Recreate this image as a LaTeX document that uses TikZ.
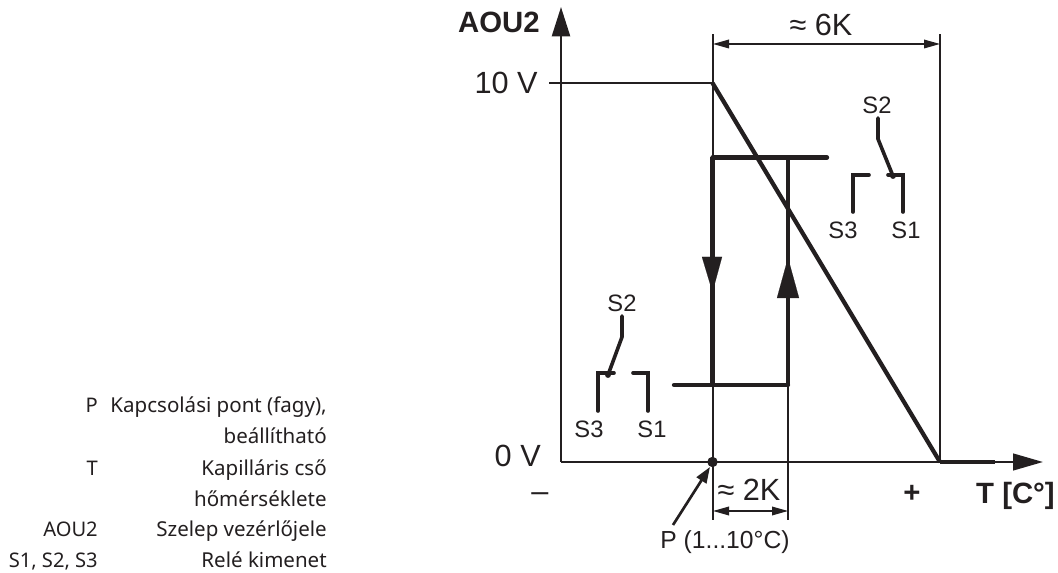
\documentclass[tikz,border=0pt]{standalone}
\usepackage{fontspec}
\setmainfont{Liberation Sans}
\newfontfamily\legendFont{Noto Sans}
\usetikzlibrary{arrows.meta}
\definecolor{lineColor}{RGB}{35,31,32}
\tikzstyle{pixelGrid} = [x = .75pt, y = -.75pt]
\tikzstyle{thinLine} = [color=lineColor, line width=1.5pt]
\tikzstyle{axisLine} = [color=lineColor, line width=1.8pt]
\tikzstyle{thickLine} = [color=lineColor, line width=3.2pt]
\tikzstyle{hystLine} = [color=lineColor, line width=3.5pt]
\tikzstyle{riseLine} = [color=lineColor, line width=2.6pt]
\tikzstyle{contactLine} = [color=lineColor, line width=2.7pt, line cap=round]
\tikzstyle{dimLine} = [color=lineColor, line width=.9pt, {Triangle[length=12pt, width=6.5pt]}-{Triangle[length=12pt, width=6.5pt]}]
\tikzstyle{bigLabel} = [color=lineColor, inner sep=0, font=\fontsize{23}{25}\selectfont]
\tikzstyle{boldLabel} = [color=lineColor, inner sep=0, font=\fontsize{22}{24}\selectfont\bfseries]
\tikzstyle{switchLabel} = [color=lineColor, inner sep=0, font=\fontsize{17.8}{19}\selectfont]
\tikzstyle{legendSymbol} = [color=lineColor, inner sep=0, font=\legendFont\fontsize{15.1}{17}\selectfont]
\tikzstyle{legendText} = [color=lineColor, inner sep=0, font=\legendFont\fontsize{15.4}{17}\selectfont]
\newcommand{\legendRow}[3]{
  \node [legendSymbol, anchor=base east] (sym#1) at (98, #1) {#2};
  \node [legendText, anchor=base east] (txt#1) at (327, #1) {#3};
}
\newcommand{\changeOver}[4]{
  \draw [contactLine] (#1, #2) -- ++ (0, 21) -- (#3, #4);
  \fill [lineColor] (#3, #4) circle (2.2pt);
}
\begin{document}
\begin{tikzpicture}[pixelGrid]
  \useasboundingbox (0,0) rectangle (1058,573);

  \coordinate (origin) at (561,462);
  \coordinate (topAxis) at (561,7);
  \coordinate (endAxis) at (1043,462);
  \coordinate (pointP) at (712.5,462);
  \coordinate (pointMax) at (712.5,83);
  \coordinate (pointZero) at (940,462);

  % axes
  \draw [axisLine, -{Triangle[length=22pt, width=13.5pt]}] (origin) -- (topAxis);
  \draw [axisLine, -{Triangle[length=22.5pt, width=12.5pt]}] (origin) -- (endAxis);
  \draw [axisLine] (549,83) -- (pointMax);
  \draw [thickLine] (pointZero) -- (995,462);

  % helper verticals
  \draw [thinLine] (pointP) -- (712.5,34);
  \draw [thinLine] (pointP) -- (712.5,520);
  \draw [thinLine] (pointZero) -- (940,34);
  \draw [thinLine] (788,385) -- (788,520);
  \draw [thickLine] (pointMax) -- (pointZero);

  % hysteresis
  \draw [hystLine] (712.5,385) -- (712.5,157.5);
  \draw [riseLine] (788,385) -- (788,157.5);
  \draw [thickLine, line cap=round] (712.5,157.5) -- (827,157.5);
  \draw [thickLine, line cap=round] (674,385) -- (788,385);
  \draw [lineColor, line width=.1pt, fill=lineColor] (702,257) -- (722,257) -- (712.5,292) -- cycle;
  \draw [lineColor, line width=.1pt, fill=lineColor] (777,298) -- (799,298) -- (788,258) -- cycle;

  % dimensions
  \draw [dimLine] (713,44) -- (940,44);
  \draw [dimLine] (713,511) -- (788,511);
  \node [bigLabel] (sixK) at (821,25) {≈ 6K};
  \node [bigLabel] (twoK) at (749,490) {≈ 2K};

  % point P
  \node [bigLabel, font=\fontsize{18.5}{20}\selectfont] (labelP) at (725,542) {P (1...10°C)};
  \fill [lineColor] (pointP) circle (3.9pt);
  \draw [color=lineColor, line width=2pt, -{Triangle[length=12pt, width=8.5pt]}] (673,525) -- (710,467);

  % axis labels
  \node [boldLabel, anchor=east] (labelY) at (540,22) {AOU2};
  \node [bigLabel, anchor=east] (labelMax) at (538,83) {10 V};
  \node [bigLabel, anchor=east] (labelMin) at (541,456) {0 V};
  \node [bigLabel] (labelMinus) at (540,497) {–};
  \node [boldLabel] (labelPlus) at (912,494) {+};
  \node [boldLabel, anchor=east] (labelX) at (1055,496) {T [C°]};

  % switch, upper right
  \node [switchLabel] (upperS2) at (877,105) {S2};
  \node [switchLabel] (upperS3) at (843,230) {S3};
  \node [switchLabel] (upperS1) at (906,230) {S1};
  \changeOver{878}{118}{893}{176}
  \draw [contactLine] (853,212) -- (853,175) -- (869,175);
  \draw [contactLine] (888,175) -- (903,175) -- (903,212);

  % switch, lower left
  \node [switchLabel] (lowerS2) at (622,303) {S2};
  \node [switchLabel] (lowerS3) at (589,429) {S3};
  \node [switchLabel] (lowerS1) at (652,429) {S1};
  \changeOver{622}{316}{608}{375}
  \draw [contactLine] (598,411) -- (598,373) -- (614,373);
  \draw [contactLine] (633,373) -- (648,373) -- (648,411);

  % legend
  \legendRow{413}{P}{Kapcsolási pont (fagy),}
  \legendRow{444}{}{beállítható}
  \legendRow{476}{T}{Kapilláris cső}
  \legendRow{507}{}{hőmérséklete}
  \legendRow{537}{AOU2}{Szelep vezérlőjele}
  \legendRow{568}{S1, S2, S3}{Relé kimenet}
\end{tikzpicture}
\end{document}
